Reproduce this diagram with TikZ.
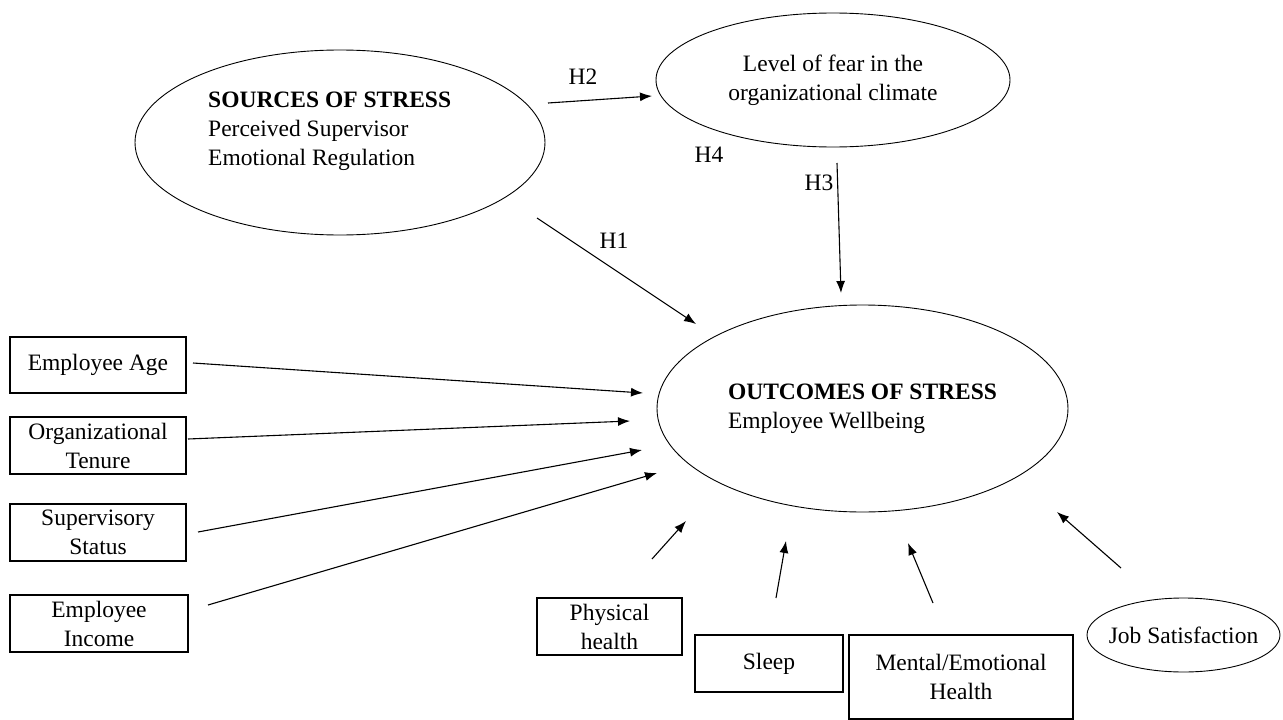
\documentclass[tikz,border=0pt]{standalone}
\usepackage{fontspec}
\setmainfont{Liberation Serif}
\usetikzlibrary{arrows.meta,shapes.geometric}

\begin{document}
\begin{tikzpicture}[
x=1pt, y=-1pt,
every node/.style={font=\fontsize{23.5}{29}\selectfont, inner sep=0pt},
box/.style={draw, line width=1.2pt, align=center, minimum height=57pt},
oval/.style={draw, ellipse, line width=.9pt, align=center},
arrow/.style={-{Latex[length=12pt,width=9pt]}, line width=1.1pt}
]

%% Box
\useasboundingbox (0,0) rectangle (1283,720);

%% Ovals
\node[oval, minimum width=410pt, minimum height=185pt] (src) at (340,142.5) {};
\node[align=left, anchor=west] (srctxt) at (208,131) {\textbf{SOURCES OF STRESS}\\Perceived Supervisor\\Emotional Regulation};
\node[oval, minimum width=354pt, minimum height=134pt] (fear) at (833,80) {Level of fear in the\\organizational climate};
\node[oval, align=left, minimum width=411pt, minimum height=207pt] (out) at (862.5,408.5) {\textbf{OUTCOMES OF STRESS}\\Employee Wellbeing};
\node[oval, inner xsep=-10pt, minimum width=193pt, minimum height=74pt] (job) at (1183.5,635) {Job Satisfaction};

%% Boxes
\node[box, minimum width=176pt, minimum height=56pt] (age) at (98,365) {Employee Age};
\node[box, minimum width=176pt] (tenure) at (98,445.5) {Organizational\\Tenure};
\node[box, minimum width=176pt] (status) at (98,532.5) {Supervisory\\Status};
\node[box, minimum width=178pt] (income) at (99,623.5) {Employee\\Income};
\node[box, minimum width=145pt] (phys) at (609.5,626.5) {Physical\\health};
\node[box, minimum width=148pt] (sleep) at (769,663.5) {Sleep};
\node[box, minimum width=224pt, minimum height=84pt] (mental) at (961,677) {Mental/Emotional\\Health};

%% Hypotheses
\node (h1) at (614,241) {H1};
\node (h2) at (583,77) {H2};
\node (h3) at (819,183) {H3};
\node (h4) at (709,155) {H4};

%% Arrows (a = tail, b = tip)
\coordinate (h1-a) at (537,218);     \coordinate (h1-b) at (696,324);
\coordinate (h2-a) at (548,103);     \coordinate (h2-b) at (652,96);
\coordinate (h3-a) at (837,163);     \coordinate (h3-b) at (841,293);
\coordinate (age-a) at (193,363);    \coordinate (age-b) at (643,393);
\coordinate (tenure-a) at (188,439); \coordinate (tenure-b) at (630,421);
\coordinate (status-a) at (198,532); \coordinate (status-b) at (642,450);
\coordinate (income-a) at (208,605); \coordinate (income-b) at (657,473);
\coordinate (phys-a) at (652,559);   \coordinate (phys-b) at (686,521);
\coordinate (sleep-a) at (776,598);  \coordinate (sleep-b) at (786,541);
\coordinate (mental-a) at (933,603); \coordinate (mental-b) at (908,543);
\coordinate (job-a) at (1121,568);   \coordinate (job-b) at (1057,512);

\foreach \p in {h1,h2,h3,age,tenure,status,income,phys,sleep,mental,job}
  \draw[arrow] (\p-a)--(\p-b);

\end{tikzpicture}
\end{document}
